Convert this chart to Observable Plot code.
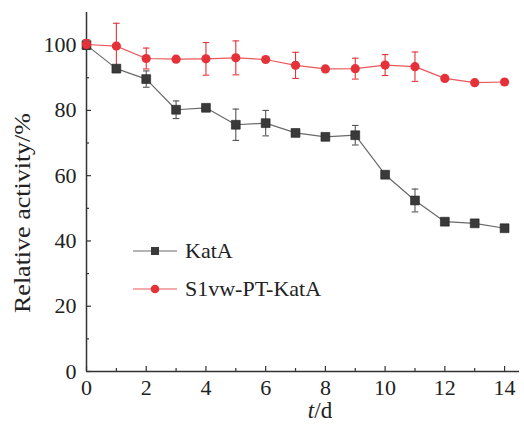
<!DOCTYPE html>
<html>
<head>
<meta charset="utf-8">
<script src="https://cdn.jsdelivr.net/npm/d3@7"></script>
<script src="https://cdn.jsdelivr.net/npm/@observablehq/plot@0.6"></script>
<style>
  html, body { margin: 0; padding: 0; background: #fff; }
  #wrap { position: relative; width: 524px; height: 433px; font-family: "Liberation Serif", "Times New Roman", serif; }
  #legend { position: absolute; left: 133px; top: 232px; font-size: 22px; color: #222; }
  #legend .row { display: flex; align-items: center; height: 38px; }
  #legend svg { margin-right: 8px; }
</style>
</head>
<body>
<div id="wrap"><div id="chart"></div><div id="legend"></div></div>
<script>
const days = [0, 1, 2, 3, 4, 5, 6, 7, 8, 9, 10, 11, 12, 13, 14];
const kataMean = [100, 92.8, 89.6, 80.2, 80.8, 75.6, 76.1, 73.1, 71.9, 72.4, 60.3, 52.4, 45.9, 45.4, 43.9];
const kataErr  = [1, 0, 2.5, 2.7, 0, 4.8, 3.9, 0, 0, 3, 0, 3.5, 1, 0, 0];
const s1Mean   = [100.2, 99.7, 95.9, 95.7, 95.8, 96.1, 95.6, 93.8, 92.7, 92.8, 93.9, 93.4, 89.8, 88.5, 88.7];
const s1Err    = [1.5, 7, 3.2, 0, 5, 5.2, 0, 4, 0, 3.2, 3.2, 4.5, 0, 0, 0];
const seriesNames = ["KatA", "S1vw-PT-KatA"];
const xMajor = [0, 2, 4, 6, 8, 10, 12, 14];
const xMinor = [1, 3, 5, 7, 9, 11, 13];
const yMajor = [0, 20, 40, 60, 80, 100];
const yMinor = [10, 30, 50, 70, 90];

const colors = {"KatA": "#3a3a3a", "S1vw-PT-KatA": "#e53138"};
const lineColors = {"KatA": "#6a6a6a", "S1vw-PT-KatA": "#e8585c"};

const kata = days.map((d, i) => ({series: "KatA", day: d, v: kataMean[i], e: kataErr[i]}));
const s1 = days.map((d, i) => ({series: "S1vw-PT-KatA", day: d, v: s1Mean[i], e: s1Err[i]}));
const capW = 0.11;

function errMarks(data, color) {
  const d = data.filter(r => r.e > 0);
  return [
    Plot.ruleX(d, {x: "day", y1: r => r.v - r.e, y2: r => r.v + r.e, stroke: color, strokeWidth: 1.1}),
    Plot.link(d, {x1: r => r.day - capW, x2: r => r.day + capW, y1: r => r.v + r.e, y2: r => r.v + r.e, stroke: color, strokeWidth: 1.1}),
    Plot.link(d, {x1: r => r.day - capW, x2: r => r.day + capW, y1: r => r.v - r.e, y2: r => r.v - r.e, stroke: color, strokeWidth: 1.1})
  ];
}

const chart = Plot.plot({
  width: 524,
  height: 433,
  marginLeft: 86,
  marginRight: 5,
  marginTop: 12,
  marginBottom: 62,
  style: {fontFamily: '"Liberation Serif", "Times New Roman", serif', fontSize: "22px", color: "#222", background: "#fff"},
  x: {domain: [0, 14.5]},
  y: {domain: [0, 110]},
  marks: [
    Plot.axisX({ticks: xMajor, tickSize: -5, tickPadding: 13, tickFormat: d => String(d), stroke: "#333", strokeWidth: 1.2, fill: "#222", label: null}),
    Plot.axisX({ticks: xMinor, tickSize: -3, text: null, stroke: "#333", strokeWidth: 1.2, label: null}),
    Plot.axisY({ticks: yMajor, tickSize: -5, tickPadding: 15, tickFormat: d => String(d), stroke: "#333", strokeWidth: 1.2, fill: "#222", label: null}),
    Plot.axisY({ticks: yMinor, tickSize: -3, text: null, stroke: "#333", strokeWidth: 1.2, label: null}),
    Plot.ruleX([0], {stroke: "#333", strokeWidth: 1.5}),
    Plot.ruleY([0], {stroke: "#333", strokeWidth: 1.5}),
    ...errMarks(kata, "#555"),
    ...errMarks(s1, "#e53138"),
    Plot.line(kata, {x: "day", y: "v", stroke: lineColors["KatA"], strokeWidth: 1.2}),
    Plot.line(s1, {x: "day", y: "v", stroke: lineColors["S1vw-PT-KatA"], strokeWidth: 1.2}),
    Plot.dot(kata, {x: "day", y: "v", symbol: "square", r: 5, fill: colors["KatA"], stroke: "#222", strokeWidth: 0.6}),
    Plot.dot(s1, {x: "day", y: "v", symbol: "circle", r: 4.6, fill: colors["S1vw-PT-KatA"], stroke: "none"})
  ]
});

const svg = d3.select(chart);
svg.append("text")
  .attr("transform", "translate(30,213) rotate(-90)")
  .attr("text-anchor", "middle")
  .attr("font-size", 23)
  .attr("fill", "#222")
  .attr("textLength", 200)
  .attr("lengthAdjust", "spacingAndGlyphs")
  .text("Relative activity/%");
const xl = svg.append("text")
  .attr("x", 320).attr("y", 418)
  .attr("text-anchor", "middle")
  .attr("font-size", 23)
  .attr("fill", "#222");
xl.append("tspan").attr("font-style", "italic").text("t");
xl.append("tspan").text("/d");

document.getElementById("chart").appendChild(chart);

const legend = d3.select("#legend");
seriesNames.forEach(name => {
  const row = legend.append("div").attr("class", "row");
  const s = row.append("svg").attr("width", 44).attr("height", 14);
  s.append("line").attr("x1", 0).attr("x2", 44).attr("y1", 7).attr("y2", 7)
    .attr("stroke", lineColors[name]).attr("stroke-width", 1.2);
  if (name === "KatA") {
    s.append("rect").attr("x", 18).attr("y", 3).attr("width", 8).attr("height", 8).attr("fill", colors[name]);
  } else {
    s.append("circle").attr("cx", 22).attr("cy", 7).attr("r", 4.3).attr("fill", colors[name]);
  }
  row.append("span").text(name);
});
</script>
</body>
</html>
